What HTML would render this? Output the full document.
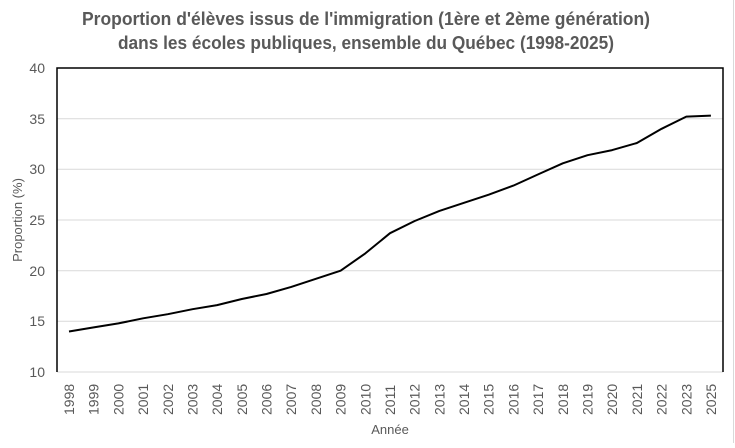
<!DOCTYPE html>
<html><head><meta charset="utf-8"><style>
body{margin:0;background:#fff;}
svg text{font-family:"Liberation Sans",Arial,sans-serif;}
</style></head><body>
<svg width="735" height="443" viewBox="0 0 735 443" xmlns="http://www.w3.org/2000/svg">
<rect x="0" y="0" width="735" height="443" fill="#fff"/>
<line x1="733.5" y1="0" x2="733.5" y2="443" stroke="#d9d9d9"/>
<text x="366" y="25" text-anchor="middle" font-size="18" font-weight="bold" fill="#595959" textLength="568" lengthAdjust="spacingAndGlyphs">Proportion d'élèves issus de l'immigration (1ère et 2ème génération)</text>
<text x="366" y="49" text-anchor="middle" font-size="18" font-weight="bold" fill="#595959" textLength="496" lengthAdjust="spacingAndGlyphs">dans les écoles publiques, ensemble du Québec (1998-2025)</text>
<g stroke="#d9d9d9" stroke-width="1">
<line x1="57" y1="118.7" x2="723" y2="118.7"/>
<line x1="57" y1="169.3" x2="723" y2="169.3"/>
<line x1="57" y1="220" x2="723" y2="220"/>
<line x1="57" y1="270.7" x2="723" y2="270.7"/>
<line x1="57" y1="321.3" x2="723" y2="321.3"/>
<line x1="57" y1="372" x2="723" y2="372"/>
</g>
<path d="M57 372 V68 H723 V372" fill="none" stroke="#000" stroke-width="1.5"/>
<g font-size="14" fill="#595959" text-anchor="end">
<text x="45" y="73">40</text><text x="45" y="124">35</text><text x="45" y="174">30</text>
<text x="45" y="225">25</text><text x="45" y="276">20</text><text x="45" y="326">15</text><text x="45" y="377">10</text>
</g>
<text transform="translate(22,220) rotate(-90)" text-anchor="middle" font-size="13" fill="#595959">Proportion (%)</text>
<text x="390" y="434" text-anchor="middle" font-size="13" fill="#595959">Année</text>
<g font-size="14" fill="#595959">
<text transform="translate(74,415) rotate(-90)">1998</text>
<text transform="translate(98.7,415) rotate(-90)">1999</text>
<text transform="translate(123.4,415) rotate(-90)">2000</text>
<text transform="translate(148.1,415) rotate(-90)">2001</text>
<text transform="translate(172.8,415) rotate(-90)">2002</text>
<text transform="translate(197.5,415) rotate(-90)">2003</text>
<text transform="translate(222.1,415) rotate(-90)">2004</text>
<text transform="translate(246.8,415) rotate(-90)">2005</text>
<text transform="translate(271.5,415) rotate(-90)">2006</text>
<text transform="translate(296.2,415) rotate(-90)">2007</text>
<text transform="translate(320.9,415) rotate(-90)">2008</text>
<text transform="translate(345.6,415) rotate(-90)">2009</text>
<text transform="translate(370.3,415) rotate(-90)">2010</text>
<text transform="translate(395,415) rotate(-90)">2011</text>
<text transform="translate(419.7,415) rotate(-90)">2012</text>
<text transform="translate(444.4,415) rotate(-90)">2013</text>
<text transform="translate(469,415) rotate(-90)">2014</text>
<text transform="translate(493.7,415) rotate(-90)">2015</text>
<text transform="translate(518.4,415) rotate(-90)">2016</text>
<text transform="translate(543.1,415) rotate(-90)">2017</text>
<text transform="translate(567.8,415) rotate(-90)">2018</text>
<text transform="translate(592.5,415) rotate(-90)">2019</text>
<text transform="translate(617.2,415) rotate(-90)">2020</text>
<text transform="translate(641.9,415) rotate(-90)">2021</text>
<text transform="translate(666.6,415) rotate(-90)">2022</text>
<text transform="translate(691.3,415) rotate(-90)">2023</text>
<text transform="translate(715.9,415) rotate(-90)">2025</text>
</g>
<polyline fill="none" stroke="#000" stroke-width="2" stroke-linejoin="round" points="69,331.5 93.7,327.4 118.4,323.4 143.1,318.3 167.8,314.2 192.5,309.2 217.1,305.1 241.8,299 266.5,294 291.2,286.9 315.9,278.8 340.6,270.7 365.3,253.4 390,233.2 414.7,221 439.4,210.9 464,202.8 488.7,194.7 513.4,185.6 538.1,174.4 562.8,163.3 587.5,155.2 612.2,150.1 636.9,143 661.6,128.8 686.3,116.6 710.9,115.6"/>
</svg>
</body></html>
